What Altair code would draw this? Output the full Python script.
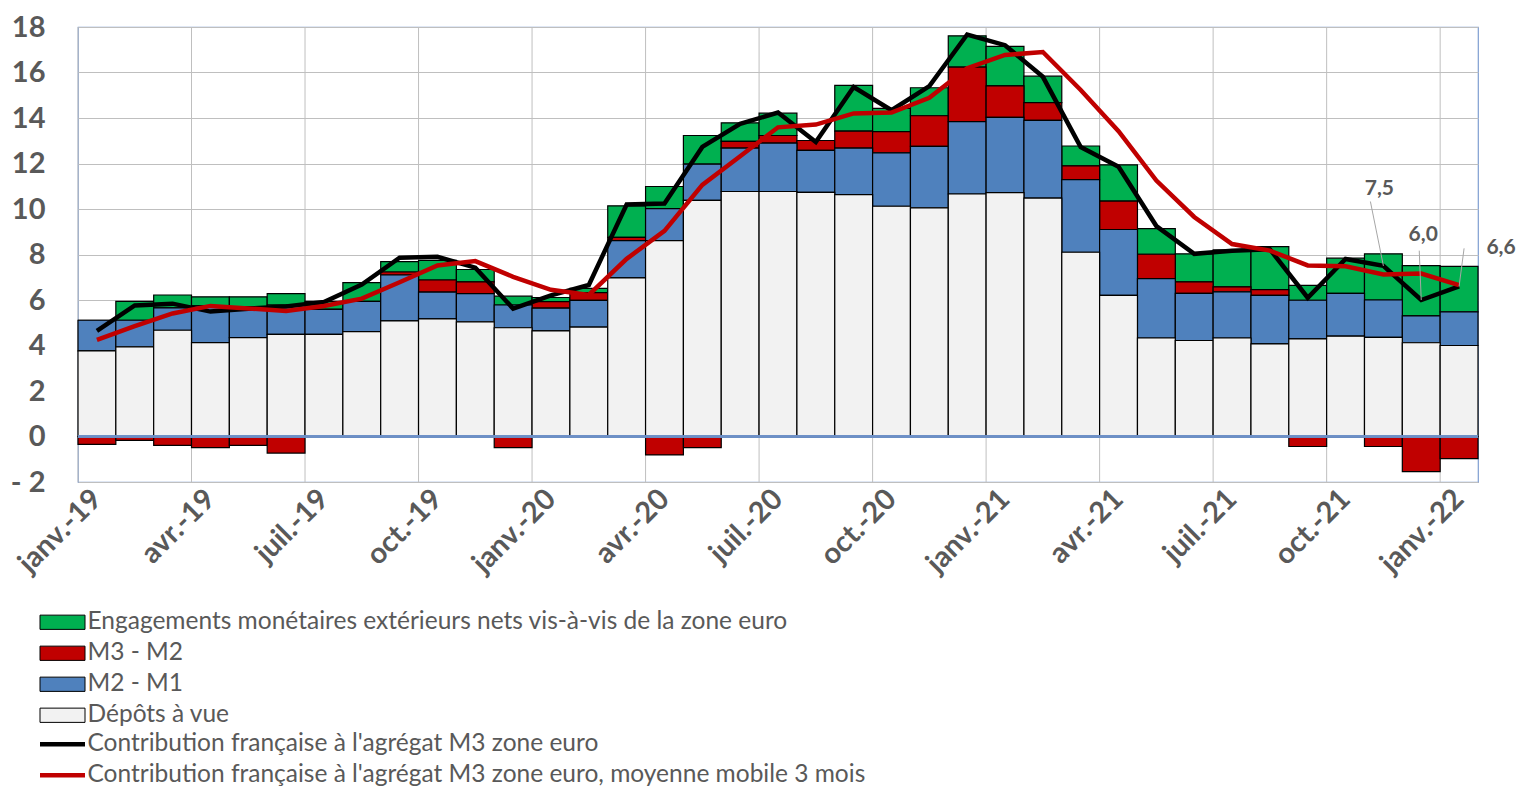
import altair as alt
import pandas as pd

mois = ["janv.-19", "févr.-19", "mars-19", "avr.-19", "mai-19", "juin-19",
        "juil.-19", "août-19", "sept.-19", "oct.-19", "nov.-19", "déc.-19",
        "janv.-20", "févr.-20", "mars-20", "avr.-20", "mai-20", "juin-20",
        "juil.-20", "août-20", "sept.-20", "oct.-20", "nov.-20", "déc.-20",
        "janv.-21", "févr.-21", "mars-21", "avr.-21", "mai-21", "juin-21",
        "juil.-21", "août-21", "sept.-21", "oct.-21", "nov.-21", "déc.-21",
        "janv.-22"]

depots_a_vue = [3.76, 3.94, 4.67, 4.13, 4.35, 4.49, 4.49, 4.61, 5.08, 5.17, 5.04, 4.78,
                4.64, 4.81, 6.97, 8.61, 10.38, 10.77, 10.77, 10.73, 10.63, 10.12, 10.05, 10.66,
                10.72, 10.48, 8.10, 6.20, 4.33, 4.22, 4.33, 4.07, 4.29, 4.41, 4.36, 4.12, 4.00]
m2_m1 = [1.35, 1.17, 0.98, 1.61, 1.36, 1.29, 1.10, 1.33, 2.02, 1.18, 1.24, 1.00,
         1.00, 1.17, 1.64, 1.41, 1.59, 1.91, 2.13, 1.85, 2.05, 2.35, 2.70, 3.18,
         3.31, 3.42, 3.19, 2.90, 2.61, 2.07, 2.03, 2.13, 1.70, 1.88, 1.64, 1.18, 1.48]
m3_m2 = [-0.35, -0.17, -0.39, -0.49, -0.39, -0.73, 0.00, -0.03, 0.13, 0.53, 0.52, -0.49,
         0.29, 0.34, 0.14, -0.81, -0.49, 0.29, 0.33, 0.43, 0.74, 0.93, 1.35, 2.40,
         1.38, 0.78, 0.61, 1.25, 1.07, 0.51, 0.22, 0.26, -0.44, -0.03, -0.44, -1.54, -0.97]
engagements = [0.00, 0.83, 0.57, 0.40, 0.43, 0.50, 0.35, 0.82, 0.46, 0.86, 0.54, 0.39,
               0.18, 0.19, 1.39, 0.97, 1.26, 0.82, 0.98, -0.03, 2.01, 1.02, 1.23, 1.37,
               1.74, 1.16, 0.87, 1.59, 1.13, 1.23, 1.62, 1.89, 0.65, 1.55, 2.03, 2.21, 2.00]
contribution = [4.64, 5.76, 5.84, 5.49, 5.62, 5.71, 5.91, 6.68, 7.86, 7.90, 7.42, 5.62,
                6.20, 6.66, 10.20, 10.24, 12.73, 13.74, 14.24, 12.94, 15.36, 14.34, 15.40, 17.67,
                17.20, 15.81, 12.72, 11.86, 9.25, 8.03, 8.17, 8.23, 6.10, 7.80, 7.50, 6.00, 6.60]
moyenne_mobile = [4.25, 4.85, 5.41, 5.74, 5.63, 5.52, 5.74, 6.06, 6.78, 7.52, 7.71, 7.02,
                  6.45, 6.22, 7.81, 9.04, 11.06, 12.32, 13.59, 13.71, 14.20, 14.24, 14.89, 16.19,
                  16.77, 16.90, 15.23, 13.42, 11.25, 9.65, 8.46, 8.17, 7.52, 7.48, 7.12, 7.16, 6.65]

composantes = ["Engagements monétaires extérieurs nets vis-à-vis de la zone euro",
               "M3 - M2", "M2 - M1", "Dépôts à vue"]
couleurs_barres = ["#00B050", "#C00000", "#4F81BD", "#F2F2F2"]
series_lignes = ["Contribution française à l'agrégat M3 zone euro",
                 "Contribution française à l'agrégat M3 zone euro, moyenne mobile 3 mois"]
couleurs_lignes = ["#000000", "#C00000"]

mois_etiquetes = mois[::3]
annotations_mois = ["nov.-21", "déc.-21", "janv.-22"]
annotations_texte = ["7,5", "6,0", "6,6"]
annotations_valeur = [7.5, 6.0, 6.6]

# --- tables built from the arrays ---
series_vals = [engagements, m3_m2, m2_m1, depots_a_vue]
rows = []
for ci, (nom, vals) in enumerate(zip(composantes, series_vals)):
    for m, v in zip(mois, vals):
        rows.append({"mois": m, "composante": nom, "valeur": v, "rang": 3 - ci})
df_barres = pd.DataFrame(rows)

rows = []
for nom, vals in zip(series_lignes, [contribution, moyenne_mobile]):
    for m, v in zip(mois, vals):
        rows.append({"mois": m, "serie": nom, "valeur": v})
df_lignes = pd.DataFrame(rows)

df_grille = pd.DataFrame({"mois": mois_etiquetes})

FONT = "Lato"
GRIS = "#595959"
W, H = 1400, 455

xscale = alt.Scale(domain=mois, paddingInner=0, paddingOuter=0)
yscale = alt.Scale(domain=[-2, 18], nice=False, zero=False)

xaxe = alt.Axis(values=mois_etiquetes, labelAngle=-45, labelAlign="right", labelBaseline="middle",
                labelFont=FONT, labelFontSize=29, labelFontWeight="bold", labelColor=GRIS,
                labelPadding=12, ticks=False, domain=False, grid=False, title=None)
yaxe = alt.Axis(values=list(range(-2, 19, 2)), grid=True, gridColor="#BFBFBF", gridWidth=1,
                ticks=False, domain=False, labelFont=FONT, labelFontSize=29, labelFontWeight="bold",
                labelColor=GRIS, labelPadding=33, title=None,
                labelExpr="datum.value < 0 ? '- ' + abs(datum.value) : datum.value")

grille = alt.Chart(df_grille).mark_rule(color="#BFBFBF", strokeWidth=1).encode(
    x=alt.X("mois:N", scale=xscale, bandPosition=0, axis=xaxe),
    y=alt.datum(-2, scale=yscale, axis=yaxe),
    y2=alt.datum(18),
)

barres = alt.Chart(df_barres).mark_bar(stroke="black", strokeWidth=1.2).encode(
    x=alt.X("mois:N", scale=xscale, axis=xaxe),
    y=alt.Y("valeur:Q", stack="zero", scale=yscale, axis=yaxe),
    color=alt.Color("composante:N", scale=alt.Scale(domain=composantes, range=couleurs_barres),
                    legend=alt.Legend(title=None, orient="none", legendX=-15, legendY=583,
                                      direction="vertical",
                                      symbolType="M-4.7,-0.95L1.3,-0.95L1.3,0.95L-4.7,0.95Z",
                                      symbolSize=225, symbolStrokeColor="black",
                                      symbolStrokeWidth=1, symbolOpacity=1,
                                      labelFont=FONT, labelFontSize=24.5, labelColor=GRIS,
                                      labelOffset=0, rowPadding=6, labelLimit=1000)),
    order=alt.Order("rang:Q"),
)

zero = alt.Chart(df_grille).mark_rule(color="#6E8FC5", strokeWidth=1.5).encode(
    y=alt.datum(0, scale=yscale)
)

lignes = alt.Chart(df_lignes).mark_line(strokeWidth=4.5).encode(
    x=alt.X("mois:N", scale=xscale, axis=xaxe),
    y=alt.Y("valeur:Q", scale=yscale, axis=yaxe),
    stroke=alt.Stroke("serie:N", scale=alt.Scale(domain=series_lignes, range=couleurs_lignes),
                      legend=alt.Legend(title=None, orient="none", legendX=-15, legendY=705,
                                        direction="vertical", symbolType="M-4.7,0L1.3,0",
                                        symbolSize=225, symbolStrokeWidth=4.5,
                                        labelFont=FONT, labelFontSize=24.5, labelColor=GRIS,
                                        labelOffset=0, rowPadding=6, labelLimit=1000)),
    detail="serie:N",
)

df_annot = pd.DataFrame({"mois": annotations_mois, "texte": annotations_texte,
                         "valeur": annotations_valeur})

def annot(i, dx, ytexte, yhaut, xoff_haut):
    d = df_annot.iloc[[i]].assign(ytexte=ytexte, yhaut=yhaut)
    t = alt.Chart(d).mark_text(font=FONT, fontSize=21, fontWeight="bold", color=GRIS,
                               dx=dx, baseline="middle", align="center").encode(
        x=alt.X("mois:N", scale=xscale, axis=xaxe),
        y=alt.Y("ytexte:Q", scale=yscale, axis=yaxe),
        text="texte:N",
    )
    r = alt.Chart(d).mark_rule(color="#A6A6A6", strokeWidth=1, xOffset=xoff_haut, x2Offset=0).encode(
        x=alt.X("mois:N", scale=xscale, axis=xaxe),
        x2=alt.X2("mois:N"),
        y=alt.Y("yhaut:Q", scale=yscale, axis=yaxe),
        y2=alt.Y2("valeur:Q"),
    )
    return [t, r]

couches = [grille, barres, zero, lignes]
couches += annot(0, -4, 10.9, 10.33, -13)
couches += annot(1, 2, 8.85, 8.17, -2)
couches += annot(2, 42, 8.27, 8.27, 5)

chart = alt.layer(*couches).properties(
    width=W, height=H,
    padding={"left": 2, "top": 5, "right": 5, "bottom": 0},
).configure_view(stroke="#7F9ED1", strokeWidth=1.2).configure_axis(labelOverlap=False)

chart.save("out.html", embed_options={"renderer": "svg", "actions": False})
